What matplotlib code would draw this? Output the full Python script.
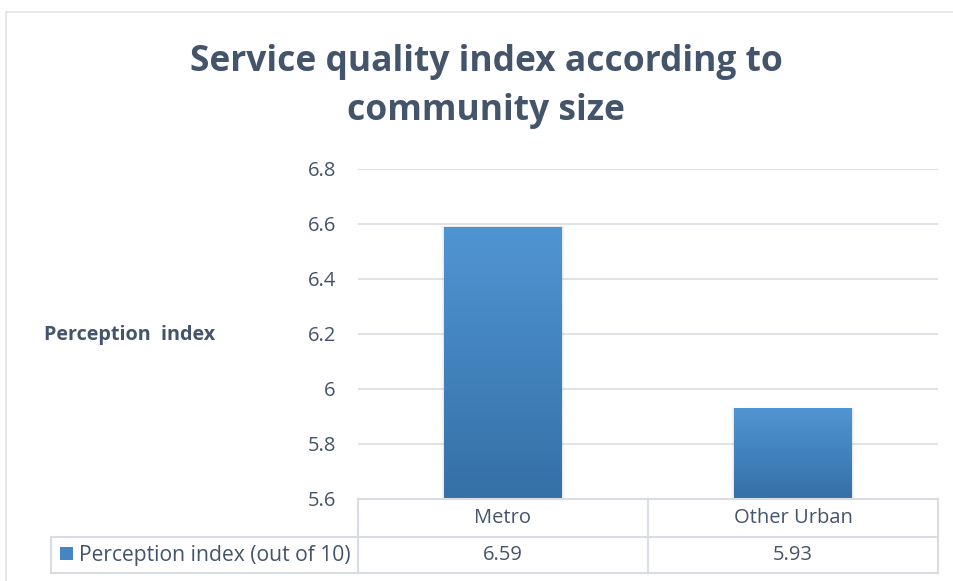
import numpy as np
import matplotlib.pyplot as plt
from matplotlib.lines import Line2D
from matplotlib.patches import Rectangle
from matplotlib.colors import LinearSegmentedColormap

categories = ["Metro", "Other Urban"]
perception = [6.59, 5.93]
series_name = "Perception index (out of 10)"
yticks = [5.6, 5.8, 6.0, 6.2, 6.4, 6.6, 6.8]
ytick_labels = ["5.6", "5.8", "6", "6.2", "6.4", "6.6", "6.8"]

TEXT = "#44546a"
GRID = "#d9dde3"
BAR_TOP = "#5095d3"
BAR_BOTTOM = "#3570a6"

W, H = 954, 581
fig = plt.figure(figsize=(W / 100, H / 100), dpi=100)
plt.rcParams["font.family"] = ["Open Sans", "DejaVu Sans"]


def fx(px):
    return px / W


def fy(py):
    return 1 - py / H


# outer chart frame (only top and left edges fall inside the canvas)
fig.add_artist(Line2D([fx(6), fx(6)], [fy(12), 0], color="#dfe4ea", lw=1.2))
fig.add_artist(Line2D([fx(6), 1], [fy(12), fy(12)], color="#dfe4ea", lw=1.2))

fig.text(fx(486), fy(62), "Service quality index according to", ha="center", va="center",
         fontsize=25.5, fontweight="bold", color=TEXT)
fig.text(fx(486), fy(111), "community size", ha="center", va="center",
         fontsize=25.5, fontweight="bold", color=TEXT)

ax = fig.add_axes([fx(358), fy(499), fx(938) - fx(358), fy(169) - fy(499)])
ax.set_yticks(yticks)
ax.set_yticklabels(ytick_labels)
ax.set_xticks([])
ax.tick_params(axis="y", length=0, pad=16, labelsize=14.5, labelcolor=TEXT)
for s in ax.spines.values():
    s.set_visible(False)
ax.grid(axis="y", color=GRID, lw=1.2)
ax.set_axisbelow(True)

x = np.arange(len(categories))
bars = ax.bar(x, np.array(perception) - yticks[0], bottom=yticks[0], width=0.405,
              color=BAR_TOP, zorder=2)

# vertical gradient fill clipped to each bar, with a soft shadow
grad = np.linspace(0, 1, 256).reshape(-1, 1)
cmap = LinearSegmentedColormap.from_list("bar", [BAR_BOTTOM, BAR_TOP])
for b in bars:
    x0, y0 = b.get_x(), b.get_y()
    w, h = b.get_width(), b.get_height()
    for k, a in enumerate([0.10, 0.06, 0.03]):
        d = 0.004 * (k + 1)
        ax.add_patch(Rectangle((x0 - d, y0), w + 2 * d, h + d * 0.25, color="#8a96a6",
                               alpha=a, lw=0, zorder=1.5, clip_on=False))
    im = ax.imshow(grad, cmap=cmap, origin="lower", aspect="auto",
                   extent=[x0, x0 + w, y0, y0 + h], zorder=2.5)
    im.set_clip_path(b)
ax.set_xlim(-0.5, len(categories) - 0.5)
ax.set_ylim(yticks[0], yticks[-1])

fig.text(fx(44), fy(335), "Perception  index", ha="left", va="center",
         fontsize=14.2, fontweight="bold", color=TEXT)

# data table under the axis
line_kw = dict(color=GRID, lw=1.5)
xl, xa, xm, xr = 51, 358, 648, 938
yh, ym, yb = 499, 537, 573
for xs, ys in [([xa, xr], [yh, yh]), ([xl, xr], [ym, ym]), ([xl, xr], [yb, yb]),
               ([xl, xl], [ym, yb]), ([xa, xa], [yh, yb]), ([xm, xm], [yh, yb]),
               ([xr, xr], [yh, yb])]:
    fig.add_artist(Line2D([fx(v) for v in xs], [fy(v) for v in ys], **line_kw))


def axes_y(py):
    return (fy(py) - fy(499)) / (fy(169) - fy(499))


blend = ax.get_xaxis_transform()
for i, (cat, val) in enumerate(zip(categories, perception)):
    ax.text(i, axes_y(518), cat, transform=blend, ha="center", va="center",
            fontsize=14.5, color=TEXT)
    ax.text(i, axes_y(555), f"{val:.2f}", transform=blend, ha="center", va="center",
            fontsize=14.5, color=TEXT)

fig.add_artist(Rectangle((fx(60), fy(560)), fx(13), fy(547) - fy(560), color="#4485c4", lw=0))
fig.text(fx(79), fy(555), series_name, ha="left", va="center", fontsize=15.2, color=TEXT)

fig.savefig("out.png", dpi=100)
